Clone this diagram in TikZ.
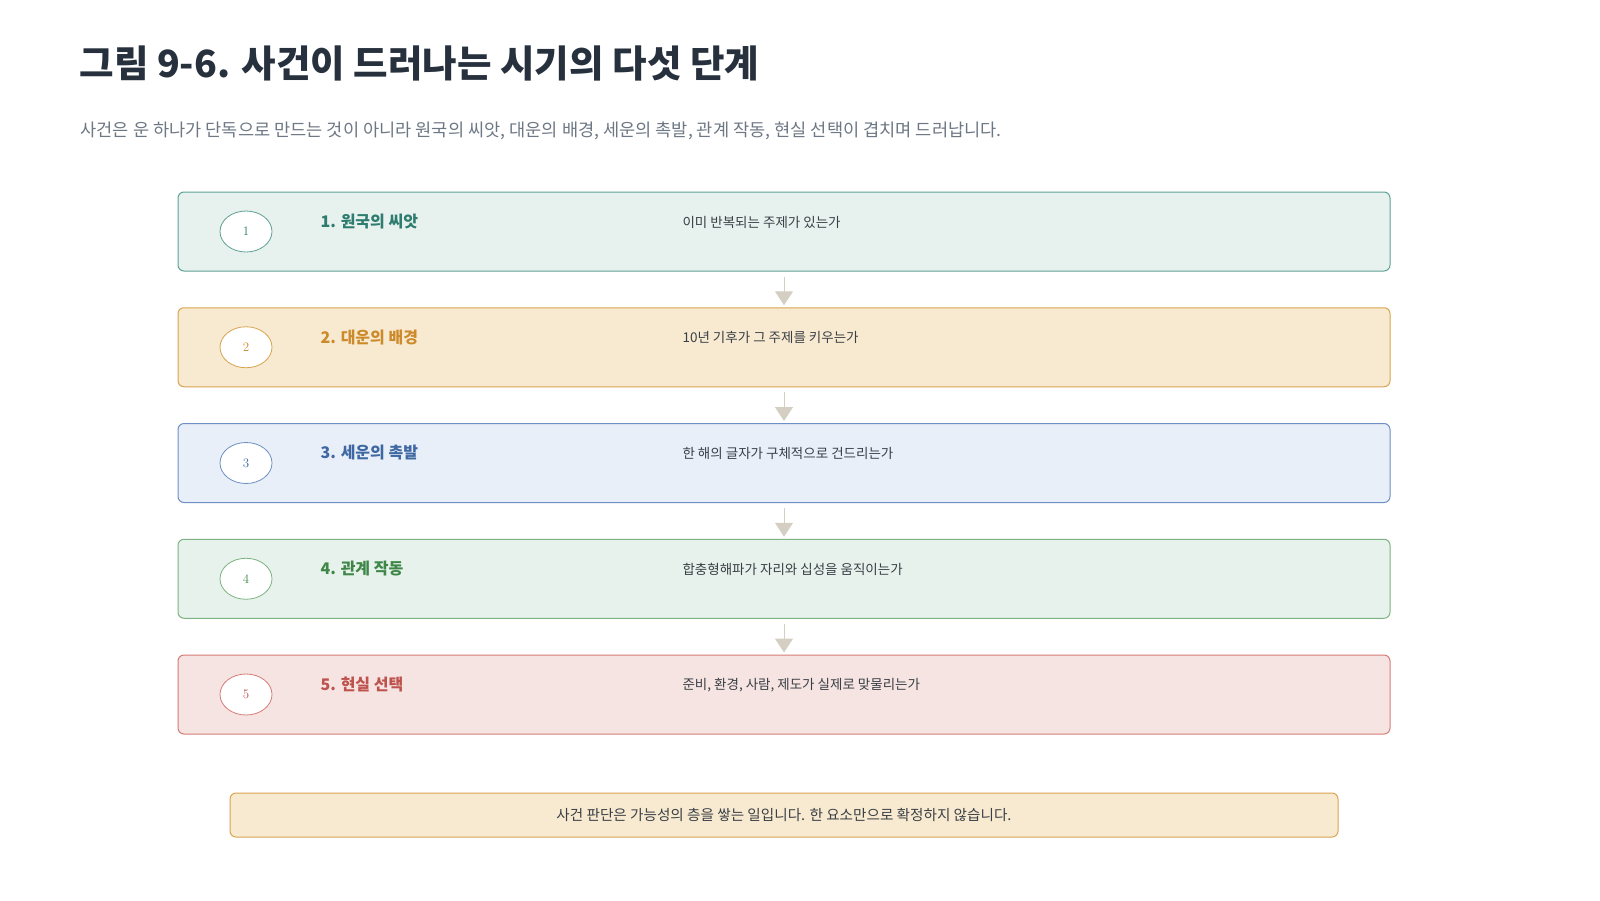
\documentclass[tikz,border=0pt]{standalone}
\usepackage{fontspec}
\newfontfamily\kr{Noto Sans CJK KR}
\usetikzlibrary{arrows.meta,positioning,shapes.geometric}

\definecolor{inktitle}{HTML}{27313D}
\definecolor{inksub}{HTML}{6E7885}
\definecolor{inkdesc}{HTML}{3A3F46}
\definecolor{flowgray}{HTML}{D5CFC3}
% step colours: line, fill, text
\definecolor{seedline}{HTML}{5FA195}\definecolor{seedfill}{HTML}{E7F2EE}\definecolor{seedtext}{HTML}{2E7B70}
\definecolor{lucksline}{HTML}{D9A44F}\definecolor{lucksfill}{HTML}{F8EAD0}\definecolor{luckstext}{HTML}{CC8A2B}
\definecolor{yearline}{HTML}{6C8FC4}\definecolor{yearfill}{HTML}{E9EFF8}\definecolor{yeartext}{HTML}{3F68A3}
\definecolor{relline}{HTML}{7DB382}\definecolor{relfill}{HTML}{E8F2EC}\definecolor{reltext}{HTML}{3E8748}
\definecolor{realline}{HTML}{D67C77}\definecolor{realfill}{HTML}{F6E4E2}\definecolor{realtext}{HTML}{BE524C}

\tikzset{
  stepbox/.style={draw=#1line, fill=#1fill, line width=1pt, rounded corners=6pt,
    minimum width=1212pt, minimum height=79pt, inner sep=0pt},
  numbadge/.style={ellipse, draw=#1line, fill=white, line width=0.8pt,
    minimum width=52pt, minimum height=41pt, inner sep=0pt, text=#1text, font=\fontsize{13}{15}\selectfont},
  steptitle/.style={anchor=west, text=#1text, font=\kr\bfseries\fontsize{16}{19}\selectfont},
  stepdesc/.style={anchor=west, text=inkdesc, font=\kr\fontsize{13.5}{16}\selectfont},
  flow/.style={draw=flowgray, line width=1pt, -{Triangle[width=18pt,length=14pt]},
    shorten <=5pt, shorten >=2pt},
}

\begin{document}
\begin{tikzpicture}[x=1pt,y=-1pt]
\useasboundingbox[fill=white] (0,0) rectangle (1600,900);

\node[anchor=west, text=inktitle, font=\kr\bfseries\fontsize{37.5}{44}\selectfont] (title) at (76,63) {그림 9-6. 사건이 드러나는 시기의 다섯 단계};
\node[anchor=west, text=inksub, font=\kr\fontsize{17.6}{21}\selectfont] (subtitle) at (77,131) {사건은 운 하나가 단독으로 만드는 것이 아니라 원국의 씨앗, 대운의 배경, 세운의 촉발, 관계 작동, 현실 선택이 겹치며 드러납니다.};

\foreach \i/\c/\ttl/\dsc in {
  1/seed/{1. 원국의 씨앗}/{이미 반복되는 주제가 있는가},
  2/lucks/{2. 대운의 배경}/{10년 기후가 그 주제를 키우는가},
  3/year/{3. 세운의 촉발}/{한 해의 글자가 구체적으로 건드리는가},
  4/rel/{4. 관계 작동}/{합충형해파가 자리와 십성을 움직이는가},
  5/real/{5. 현실 선택}/{준비, 환경, 사람, 제도가 실제로 맞물리는가}} {
  \pgfmathsetmacro{\yc}{231.5+(\i-1)*115.75}
  \node[stepbox=\c] (step\i) at (784,\yc) {};
  \node[numbadge=\c] (num\i) at (246,\yc) {\i};
  \node[steptitle=\c] (ttl\i) at (317,\yc-10) {\ttl};
  \node[stepdesc] (dsc\i) at (679,\yc-9.5) {\dsc};
}

\foreach \i/\j in {1/2,2/3,3/4,4/5} {
  \draw[flow] (step\i.south) -- (step\j.north);
}

\node[draw=lucksline, fill=lucksfill, line width=1pt, rounded corners=6pt,
  minimum width=1108pt, minimum height=44pt, inner sep=0pt,
  text=inkdesc, font=\kr\fontsize{14.6}{17}\selectfont] (note) at (784,815) {사건 판단은 가능성의 층을 쌓는 일입니다. 한 요소만으로 확정하지 않습니다.};
\end{tikzpicture}
\end{document}
